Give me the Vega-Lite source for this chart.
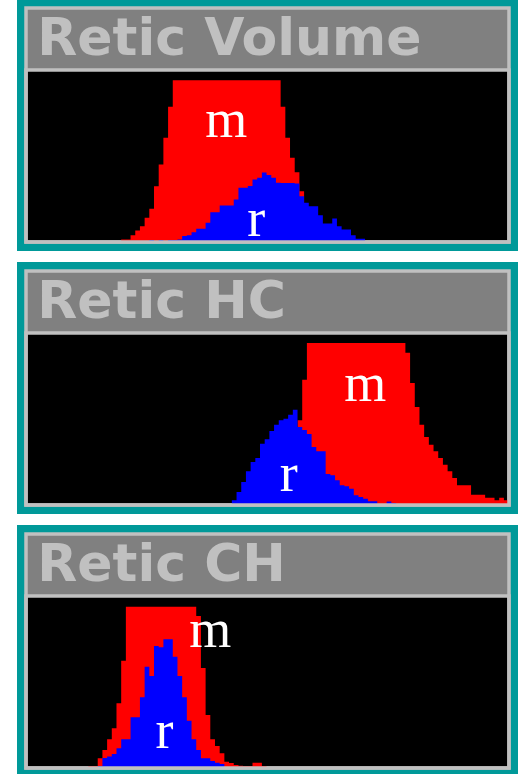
{
  "$schema": "https://vega.github.io/schema/vega-lite/v6.json",
  "background": "white",
  "padding": {"left": 15, "top": -3, "right": 0, "bottom": 0},
  "bounds": "flush",
  "spacing": 29,
  "config": {"axis": {"disable": true}, "view": {"stroke": null}},
  "datasets": {
    "volume": [
      {"series":"m","bin":19,"count":0},{"series":"m","bin":20,"count":2.5},{"series":"m","bin":21,"count":2.5},{"series":"m","bin":22,"count":6.8},
      {"series":"m","bin":23,"count":11.5},{"series":"m","bin":24,"count":15.8},{"series":"m","bin":25,"count":24.2},{"series":"m","bin":26,"count":33.2},
      {"series":"m","bin":27,"count":55.8},{"series":"m","bin":28,"count":77.5},{"series":"m","bin":29,"count":104.2},{"series":"m","bin":30,"count":135.2},
      {"series":"m","bin":31,"count":161.8},{"series":"m","bin":32,"count":161.8},{"series":"m","bin":33,"count":161.8},{"series":"m","bin":34,"count":161.8},
      {"series":"m","bin":35,"count":161.8},{"series":"m","bin":36,"count":161.8},{"series":"m","bin":37,"count":161.8},{"series":"m","bin":38,"count":161.8},
      {"series":"m","bin":39,"count":161.8},{"series":"m","bin":40,"count":161.8},{"series":"m","bin":41,"count":161.8},{"series":"m","bin":42,"count":161.8},
      {"series":"m","bin":43,"count":161.8},{"series":"m","bin":44,"count":161.8},{"series":"m","bin":45,"count":161.8},{"series":"m","bin":46,"count":161.8},
      {"series":"m","bin":47,"count":161.8},{"series":"m","bin":48,"count":161.8},{"series":"m","bin":49,"count":161.8},{"series":"m","bin":50,"count":161.8},
      {"series":"m","bin":51,"count":161.8},{"series":"m","bin":52,"count":161.8},{"series":"m","bin":53,"count":161.8},{"series":"m","bin":54,"count":135.2},
      {"series":"m","bin":55,"count":104.2},{"series":"m","bin":56,"count":84.2},{"series":"m","bin":57,"count":69.8},{"series":"m","bin":58,"count":50.8},
      {"series":"m","bin":59,"count":32},{"series":"m","bin":60,"count":22},{"series":"m","bin":61,"count":15},{"series":"m","bin":62,"count":10},
      {"series":"m","bin":63,"count":6},{"series":"m","bin":64,"count":3},{"series":"m","bin":65,"count":0},
      {"series":"r","bin":25,"count":0},{"series":"r","bin":26,"count":2},{"series":"r","bin":27,"count":0},{"series":"r","bin":28,"count":2},
      {"series":"r","bin":29,"count":0},{"series":"r","bin":30,"count":2},{"series":"r","bin":31,"count":2},{"series":"r","bin":32,"count":2.5},
      {"series":"r","bin":33,"count":6},{"series":"r","bin":34,"count":6.8},{"series":"r","bin":35,"count":9.8},{"series":"r","bin":36,"count":13.2},
      {"series":"r","bin":37,"count":13.2},{"series":"r","bin":38,"count":19.2},{"series":"r","bin":39,"count":29.8},{"series":"r","bin":40,"count":29.8},
      {"series":"r","bin":41,"count":36.5},{"series":"r","bin":42,"count":36.5},{"series":"r","bin":43,"count":36.5},{"series":"r","bin":44,"count":42.5},
      {"series":"r","bin":45,"count":54.2},{"series":"r","bin":46,"count":54.2},{"series":"r","bin":47,"count":56},{"series":"r","bin":48,"count":62.5},
      {"series":"r","bin":49,"count":64.2},{"series":"r","bin":50,"count":69.5},{"series":"r","bin":51,"count":67},{"series":"r","bin":52,"count":64.2},
      {"series":"r","bin":53,"count":59.2},{"series":"r","bin":54,"count":59},{"series":"r","bin":55,"count":59},{"series":"r","bin":56,"count":59},
      {"series":"r","bin":57,"count":58.5},{"series":"r","bin":58,"count":45.8},{"series":"r","bin":59,"count":39.2},{"series":"r","bin":60,"count":35.8},
      {"series":"r","bin":61,"count":35.8},{"series":"r","bin":62,"count":26.8},{"series":"r","bin":63,"count":18.5},{"series":"r","bin":64,"count":18.5},
      {"series":"r","bin":65,"count":23.5},{"series":"r","bin":66,"count":15.8},{"series":"r","bin":67,"count":12.5},{"series":"r","bin":68,"count":12.5},
      {"series":"r","bin":69,"count":6.8},{"series":"r","bin":70,"count":3.2},{"series":"r","bin":71,"count":3.2},{"series":"r","bin":72,"count":0}
    ],
    "hc": [
      {"series":"m","bin":51,"count":0},{"series":"m","bin":52,"count":5},{"series":"m","bin":53,"count":15},{"series":"m","bin":54,"count":30},
      {"series":"m","bin":55,"count":45},{"series":"m","bin":56,"count":62},{"series":"m","bin":57,"count":84.7},{"series":"m","bin":58,"count":125.3},
      {"series":"m","bin":59,"count":162},{"series":"m","bin":60,"count":162},{"series":"m","bin":61,"count":162},{"series":"m","bin":62,"count":162},
      {"series":"m","bin":63,"count":162},{"series":"m","bin":64,"count":162},{"series":"m","bin":65,"count":162},{"series":"m","bin":66,"count":162},
      {"series":"m","bin":67,"count":162},{"series":"m","bin":68,"count":162},{"series":"m","bin":69,"count":162},{"series":"m","bin":70,"count":162},
      {"series":"m","bin":71,"count":162},{"series":"m","bin":72,"count":162},{"series":"m","bin":73,"count":162},{"series":"m","bin":74,"count":162},
      {"series":"m","bin":75,"count":162},{"series":"m","bin":76,"count":162},{"series":"m","bin":77,"count":162},{"series":"m","bin":78,"count":162},
      {"series":"m","bin":79,"count":162},{"series":"m","bin":80,"count":152.3},{"series":"m","bin":81,"count":122},{"series":"m","bin":82,"count":98},
      {"series":"m","bin":83,"count":80.3},{"series":"m","bin":84,"count":68},{"series":"m","bin":85,"count":60.3},{"series":"m","bin":86,"count":53.7},
      {"series":"m","bin":87,"count":47},{"series":"m","bin":88,"count":40.3},{"series":"m","bin":89,"count":33.7},{"series":"m","bin":90,"count":27},
      {"series":"m","bin":91,"count":19.7},{"series":"m","bin":92,"count":19.7},{"series":"m","bin":93,"count":19.7},{"series":"m","bin":94,"count":10.3},
      {"series":"m","bin":95,"count":10.3},{"series":"m","bin":96,"count":10.3},{"series":"m","bin":97,"count":7.3},{"series":"m","bin":98,"count":7.3},
      {"series":"m","bin":99,"count":4.7},{"series":"m","bin":100,"count":7.3},{"series":"m","bin":101,"count":4.7},{"series":"m","bin":102,"count":0},
      {"series":"r","bin":42,"count":0},{"series":"r","bin":43,"count":4.7},{"series":"r","bin":44,"count":13},{"series":"r","bin":45,"count":23},
      {"series":"r","bin":46,"count":33.7},{"series":"r","bin":47,"count":43},{"series":"r","bin":48,"count":47},{"series":"r","bin":49,"count":61.3},
      {"series":"r","bin":50,"count":65.7},{"series":"r","bin":51,"count":74},{"series":"r","bin":52,"count":80.3},{"series":"r","bin":53,"count":84.7},
      {"series":"r","bin":54,"count":86.3},{"series":"r","bin":55,"count":90.3},{"series":"r","bin":56,"count":95.3},{"series":"r","bin":57,"count":78},
      {"series":"r","bin":58,"count":75},{"series":"r","bin":59,"count":71},{"series":"r","bin":60,"count":58},{"series":"r","bin":61,"count":53.7},
      {"series":"r","bin":62,"count":53.7},{"series":"r","bin":63,"count":31},{"series":"r","bin":64,"count":29.7},{"series":"r","bin":65,"count":24.7},
      {"series":"r","bin":66,"count":19.7},{"series":"r","bin":67,"count":18.7},{"series":"r","bin":68,"count":16.3},{"series":"r","bin":69,"count":9.7},
      {"series":"r","bin":70,"count":8},{"series":"r","bin":71,"count":6.3},{"series":"r","bin":72,"count":3.7},{"series":"r","bin":73,"count":3.7},
      {"series":"r","bin":74,"count":0},{"series":"r","bin":75,"count":0},{"series":"r","bin":76,"count":3.5},{"series":"r","bin":77,"count":2},
      {"series":"r","bin":78,"count":0}
    ],
    "ch": [
      {"series":"m","bin":12,"count":0},{"series":"m","bin":13,"count":2},{"series":"m","bin":14,"count":2},{"series":"m","bin":15,"count":9.7},
      {"series":"m","bin":16,"count":18},{"series":"m","bin":17,"count":28.7},{"series":"m","bin":18,"count":39.7},{"series":"m","bin":19,"count":64.7},
      {"series":"m","bin":20,"count":107.3},{"series":"m","bin":21,"count":161.3},{"series":"m","bin":22,"count":161.3},{"series":"m","bin":23,"count":161.3},
      {"series":"m","bin":24,"count":161.3},{"series":"m","bin":25,"count":161.3},{"series":"m","bin":26,"count":161.3},{"series":"m","bin":27,"count":161.3},
      {"series":"m","bin":28,"count":161.3},{"series":"m","bin":29,"count":161.3},{"series":"m","bin":30,"count":161.3},{"series":"m","bin":31,"count":161.3},
      {"series":"m","bin":32,"count":161.3},{"series":"m","bin":33,"count":161.3},{"series":"m","bin":34,"count":161.3},{"series":"m","bin":35,"count":161.3},
      {"series":"m","bin":36,"count":152},{"series":"m","bin":37,"count":100},{"series":"m","bin":38,"count":53},{"series":"m","bin":39,"count":28.7},
      {"series":"m","bin":40,"count":22},{"series":"m","bin":41,"count":14.7},{"series":"m","bin":42,"count":6.3},{"series":"m","bin":43,"count":5},
      {"series":"m","bin":44,"count":3},{"series":"m","bin":45,"count":2.3},{"series":"m","bin":46,"count":2},{"series":"m","bin":47,"count":2},
      {"series":"m","bin":48,"count":5.3},{"series":"m","bin":49,"count":5.3},{"series":"m","bin":50,"count":2},{"series":"m","bin":51,"count":0},
      {"series":"r","bin":14,"count":0},{"series":"r","bin":15,"count":2},{"series":"r","bin":16,"count":10},{"series":"r","bin":17,"count":11.5},
      {"series":"r","bin":18,"count":14},{"series":"r","bin":19,"count":19.7},{"series":"r","bin":20,"count":28.7},{"series":"r","bin":21,"count":28.7},
      {"series":"r","bin":22,"count":50.7},{"series":"r","bin":23,"count":50.7},{"series":"r","bin":24,"count":70.7},{"series":"r","bin":25,"count":101.3},
      {"series":"r","bin":26,"count":92},{"series":"r","bin":27,"count":122},{"series":"r","bin":28,"count":120.7},{"series":"r","bin":29,"count":128.7},
      {"series":"r","bin":30,"count":128.7},{"series":"r","bin":31,"count":111.3},{"series":"r","bin":32,"count":92},{"series":"r","bin":33,"count":70.7},
      {"series":"r","bin":34,"count":47.3},{"series":"r","bin":35,"count":28.7},{"series":"r","bin":36,"count":18},{"series":"r","bin":37,"count":9.7},
      {"series":"r","bin":38,"count":9.7},{"series":"r","bin":39,"count":7},{"series":"r","bin":40,"count":5.3},{"series":"r","bin":41,"count":4},
      {"series":"r","bin":42,"count":0}
    ]
  },
  "vconcat": [
    {
      "width": 483, "height": 234,
      "view": {"stroke": "#009999", "strokeWidth": 18},
      "data": {"name": "volume"},
      "layer": [
        {"data": {"values": [{}]}, "mark": {"type": "rect", "fill": "#808080", "strokeWidth": 0}},
        {"data": {"values": [{}]}, "mark": {"type": "rect", "fill": "#000000", "stroke": "#c0c0c0", "strokeWidth": 3.5},
         "encoding": {"y": {"datum": 172, "type": "quantitative", "axis": null}, "y2": {"datum": 0}}},
        {"transform": [{"filter": "datum.series === 'm'"}],
         "mark": {"type": "area", "interpolate": "step-after", "color": "#ff0000"},
         "encoding": {
           "x": {"field": "bin", "type": "quantitative", "scale": {"domain": [-0.294, 102.69], "nice": false, "zero": false}, "axis": null},
           "y": {"field": "count", "type": "quantitative", "scale": {"domain": [0, 234], "nice": false}, "axis": null}}},
        {"transform": [{"filter": "datum.series === 'r'"}],
         "mark": {"type": "area", "interpolate": "step-after", "color": "#0000ff"},
         "encoding": {"x": {"field": "bin", "type": "quantitative", "axis": null}, "y": {"field": "count", "type": "quantitative", "axis": null}}},
        {"data": {"values": [{}]}, "mark": {"type": "rect", "filled": false, "stroke": "#c0c0c0", "strokeWidth": 3.5}},
        {"data": {"values": [{}]},
         "mark": {"type": "text", "text": "Retic Volume", "font": "DejaVu Sans", "fontWeight": "bold", "fontSize": 52, "color": "#c0c0c0", "align": "left", "baseline": "alphabetic"},
         "encoding": {"x": {"datum": 2.1, "type": "quantitative"}, "y": {"datum": 187, "type": "quantitative"}}},
        {"data": {"values": [{}]},
         "mark": {"type": "text", "text": "m", "font": "Liberation Serif", "fontSize": 54, "color": "#ffffff", "align": "center", "baseline": "alphabetic"},
         "encoding": {"x": {"datum": 42.4, "type": "quantitative"}, "y": {"datum": 105.5, "type": "quantitative"}}},
        {"data": {"values": [{}]},
         "mark": {"type": "text", "text": "r", "font": "Liberation Serif", "fontSize": 54, "color": "#ffffff", "align": "center", "baseline": "alphabetic"},
         "encoding": {"x": {"datum": 48.8, "type": "quantitative"}, "y": {"datum": 5.8, "type": "quantitative"}}}
      ]
    },
    {
      "width": 483, "height": 234,
      "view": {"stroke": "#009999", "strokeWidth": 18},
      "data": {"name": "hc"},
      "layer": [
        {"data": {"values": [{}]}, "mark": {"type": "rect", "fill": "#808080", "strokeWidth": 0}},
        {"data": {"values": [{}]}, "mark": {"type": "rect", "fill": "#000000", "stroke": "#c0c0c0", "strokeWidth": 3.5},
         "encoding": {"y": {"datum": 172, "type": "quantitative", "axis": null}, "y2": {"datum": 0}}},
        {"transform": [{"filter": "datum.series === 'm'"}],
         "mark": {"type": "area", "interpolate": "step-after", "color": "#ff0000"},
         "encoding": {
           "x": {"field": "bin", "type": "quantitative", "scale": {"domain": [-0.893, 102.09], "nice": false, "zero": false}, "axis": null},
           "y": {"field": "count", "type": "quantitative", "scale": {"domain": [0, 234], "nice": false}, "axis": null}}},
        {"transform": [{"filter": "datum.series === 'r'"}],
         "mark": {"type": "area", "interpolate": "step-after", "color": "#0000ff"},
         "encoding": {"x": {"field": "bin", "type": "quantitative", "axis": null}, "y": {"field": "count", "type": "quantitative", "axis": null}}},
        {"data": {"values": [{}]}, "mark": {"type": "rect", "filled": false, "stroke": "#c0c0c0", "strokeWidth": 3.5}},
        {"data": {"values": [{}]},
         "mark": {"type": "text", "text": "Retic HC", "font": "DejaVu Sans", "fontWeight": "bold", "fontSize": 52, "color": "#c0c0c0", "align": "left", "baseline": "alphabetic"},
         "encoding": {"x": {"datum": 1.5, "type": "quantitative"}, "y": {"datum": 187, "type": "quantitative"}}},
        {"data": {"values": [{}]},
         "mark": {"type": "text", "text": "m", "font": "Liberation Serif", "fontSize": 54, "color": "#ffffff", "align": "center", "baseline": "alphabetic"},
         "encoding": {"x": {"datum": 71.45, "type": "quantitative"}, "y": {"datum": 103.8, "type": "quantitative"}}},
        {"data": {"values": [{}]},
         "mark": {"type": "text", "text": "r", "font": "Liberation Serif", "fontSize": 54, "color": "#ffffff", "align": "center", "baseline": "alphabetic"},
         "encoding": {"x": {"datum": 55.1, "type": "quantitative"}, "y": {"datum": 14.5, "type": "quantitative"}}}
      ]
    },
    {
      "width": 483, "height": 234,
      "view": {"stroke": "#009999", "strokeWidth": 18},
      "data": {"name": "ch"},
      "layer": [
        {"data": {"values": [{}]}, "mark": {"type": "rect", "fill": "#808080", "strokeWidth": 0}},
        {"data": {"values": [{}]}, "mark": {"type": "rect", "fill": "#000000", "stroke": "#c0c0c0", "strokeWidth": 3.5},
         "encoding": {"y": {"datum": 172, "type": "quantitative", "axis": null}, "y2": {"datum": 0}}},
        {"transform": [{"filter": "datum.series === 'm'"}],
         "mark": {"type": "area", "interpolate": "step-after", "color": "#ff0000"},
         "encoding": {
           "x": {"field": "bin", "type": "quantitative", "scale": {"domain": [-0.294, 102.69], "nice": false, "zero": false}, "axis": null},
           "y": {"field": "count", "type": "quantitative", "scale": {"domain": [0, 234], "nice": false}, "axis": null}}},
        {"transform": [{"filter": "datum.series === 'r'"}],
         "mark": {"type": "area", "interpolate": "step-after", "color": "#0000ff"},
         "encoding": {"x": {"field": "bin", "type": "quantitative", "axis": null}, "y": {"field": "count", "type": "quantitative", "axis": null}}},
        {"data": {"values": [{}]}, "mark": {"type": "rect", "filled": false, "stroke": "#c0c0c0", "strokeWidth": 3.5}},
        {"data": {"values": [{}]},
         "mark": {"type": "text", "text": "Retic CH", "font": "DejaVu Sans", "fontWeight": "bold", "fontSize": 52, "color": "#c0c0c0", "align": "left", "baseline": "alphabetic"},
         "encoding": {"x": {"datum": 2.1, "type": "quantitative"}, "y": {"datum": 187, "type": "quantitative"}}},
        {"data": {"values": [{}]},
         "mark": {"type": "text", "text": "m", "font": "Liberation Serif", "fontSize": 54, "color": "#ffffff", "align": "center", "baseline": "alphabetic"},
         "encoding": {"x": {"datum": 39.0, "type": "quantitative"}, "y": {"datum": 121.2, "type": "quantitative"}}},
        {"data": {"values": [{}]},
         "mark": {"type": "text", "text": "r", "font": "Liberation Serif", "fontSize": 54, "color": "#ffffff", "align": "center", "baseline": "alphabetic"},
         "encoding": {"x": {"datum": 29.24, "type": "quantitative"}, "y": {"datum": 20.2, "type": "quantitative"}}}
      ]
    }
  ]
}
